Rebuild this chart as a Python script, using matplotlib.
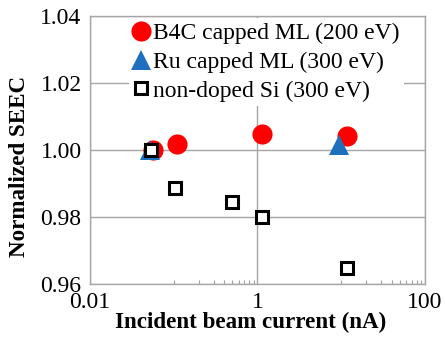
import matplotlib
matplotlib.use('Agg')
from matplotlib import pyplot as plt
from matplotlib.ticker import FixedLocator, NullFormatter

# data
b4c_x = [0.056, 0.111, 1.14, 11.8]
b4c_y = [1.000, 1.0018, 1.0047, 1.0043]
ru_x = [0.052, 9.4]
ru_y = [1.000, 1.0015]
si_x = [0.053, 0.105, 0.50, 1.14, 11.6]
si_y = [1.000, 0.9886, 0.9846, 0.9799, 0.9649]

plt.rcParams['font.family'] = ['Liberation Serif', 'DejaVu Serif']

fig = plt.figure(figsize=(4.45, 3.41), dpi=100)
ax = fig.add_axes([0.202, 0.167, 0.753, 0.786])

ax.plot(b4c_x, b4c_y, 'o', color='#ff0000', markersize=14.5, markeredgewidth=0,
        label='B4C capped ML (200 eV)', zorder=3)
ax.plot(ru_x, ru_y, '^', color='#1f6fbf', markersize=15, markeredgewidth=0,
        label='Ru capped ML (300 eV)', zorder=4)
ax.plot(si_x, si_y, 's', markerfacecolor='white', markeredgecolor='black',
        markersize=9, markeredgewidth=2.2, label='non-doped Si (300 eV)', zorder=5)

ax.set_xscale('log')
ax.set_xlim(0.01, 100)
ax.set_ylim(0.96, 1.04)
ax.set_xticks([0.01, 1, 100])
ax.set_xticklabels(['0.01', '1', '100'])
ax.xaxis.set_minor_locator(FixedLocator([k * 0.1 for k in range(1, 10)] + [k * 10 for k in range(1, 10)]))
ax.xaxis.set_minor_formatter(NullFormatter())
yt = [0.96, 0.98, 1.00, 1.02, 1.04]
ax.set_yticks(yt)
ax.set_yticklabels(['%.2f' % v for v in yt])

ax.tick_params(axis='both', which='major', length=0, labelsize=17, pad=6)
ax.tick_params(axis='x', which='minor', direction='in', length=3, color='#a0a0a0', width=0.8)
ax.grid(True, which='major', color='#a6a6a6', linewidth=1)
ax.set_axisbelow(True)
for s in ax.spines.values():
    s.set_color('#a6a6a6')
    s.set_linewidth(1)

ax.set_xlabel('Incident beam current (nA)', fontsize=16.6, fontweight='bold')
ax.set_ylabel('Normalized SEEC', fontsize=16.6, fontweight='bold')
ax.xaxis.set_label_coords(0.48, -0.105)
ax.yaxis.set_label_coords(-0.18, 0.437)

leg = ax.legend(loc='upper left', bbox_to_anchor=(0.104, 1.01), fontsize=17,
                frameon=True, facecolor='white', edgecolor='none', framealpha=1,
                handlelength=0.6, handletextpad=0.2, labelspacing=0.3,
                borderpad=0.2, borderaxespad=0.2, fancybox=False)
leg.set_zorder(6)

fig.savefig('out.png', dpi=100)
